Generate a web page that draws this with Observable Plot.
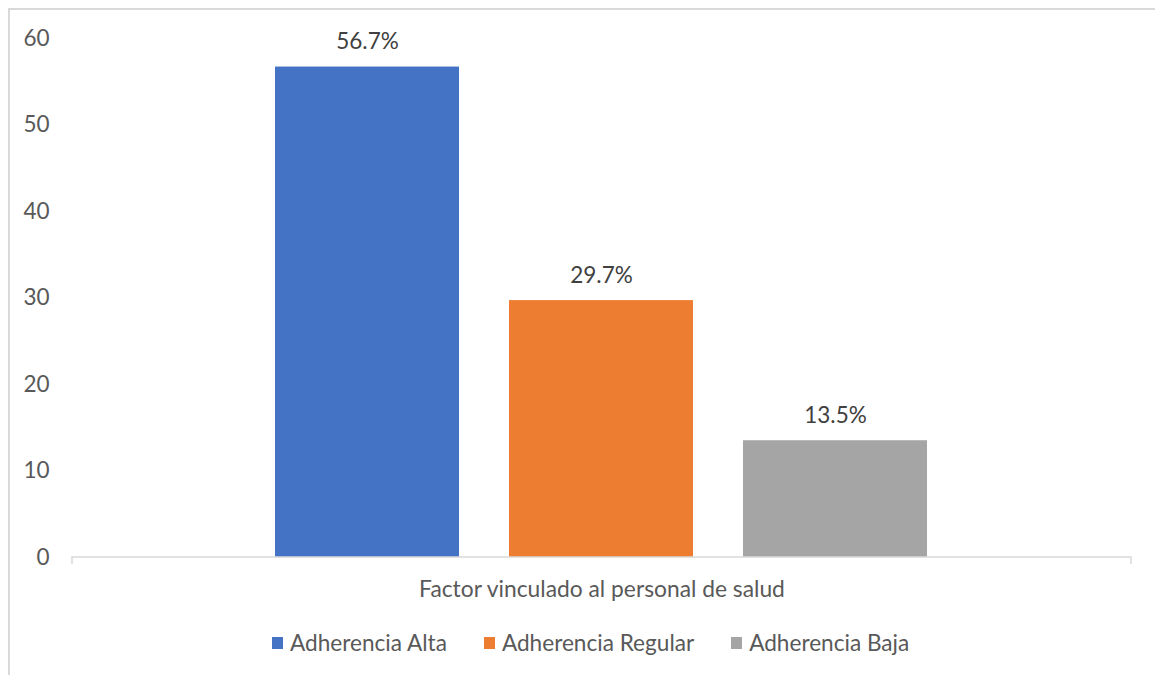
<!DOCTYPE html>
<html>
<head>
<meta charset="utf-8">
<script src="https://cdn.jsdelivr.net/npm/d3@7"></script>
<script src="https://cdn.jsdelivr.net/npm/@observablehq/plot@0.6"></script>
<style>
  html, body { margin: 0; padding: 0; background: #fff; overflow: hidden; }
  body { width: 1155px; height: 675px; position: relative; font-family: Lato, "Open Sans", sans-serif; color: #595959; }
  #frame { position: absolute; left: 8px; top: 8px; width: 1300px; height: 800px; border-left: 2px solid #d9d9d9; border-top: 2px solid #d9d9d9; box-sizing: border-box; }
  #chart { position: absolute; left: 0; top: 0; }
  #legend { position: absolute; left: 272px; top: 629px; display: flex; align-items: center; font-size: 22.6px; color: #595959; white-space: nowrap; }
  .item { display: flex; align-items: center; margin-right: 37px; }
  .sw { width: 11px; height: 12px; margin-right: 7px; }
</style>
</head>
<body>
<div id="frame"></div>
<div id="chart"></div>
<div id="legend"></div>
<script>
const series = ["Adherencia Alta", "Adherencia Regular", "Adherencia Baja"];
const values = [56.7, 29.7, 13.5];
const colors = ["#4472C4", "#ED7D31", "#A5A5A5"];
const yTicks = [0, 10, 20, 30, 40, 50, 60];
const categoryLabel = "Factor vinculado al personal de salud";

const data = series.map((s, i) => ({series: s, value: values[i]}));

const baselineTicks = (index, scales, values, dims) => {
  const g = d3.create("svg:g").attr("stroke", "#d9d9d9").attr("stroke-width", 1.5).attr("fill", "none");
  const y0 = scales.y(0);
  const x0 = dims.marginLeft, x1 = dims.width - dims.marginRight;
  g.append("path").attr("d", `M${x0},${y0 + 7}V${y0}H${x1}V${y0 + 7}`);
  return g.node();
};

const chart = Plot.plot({
  width: 1155,
  height: 610,
  marginLeft: 72,
  marginRight: 24,
  marginTop: 38,
  marginBottom: 53,
  style: {fontFamily: "Lato, 'Open Sans', sans-serif", color: "#595959", background: "transparent", overflow: "visible"},
  x: {domain: series, paddingInner: 0.213, paddingOuter: 0.86, axis: null},
  y: {domain: [0, 60], ticks: yTicks, axis: null},
  color: {domain: series, range: colors},
  marks: [
    Plot.axisY({ticks: yTicks, tickSize: 0, tickPadding: 23, fontSize: 22.5, label: null, fill: "#595959"}),
    Plot.barY(data, {x: "series", y: "value", fill: "series"}),
    baselineTicks,
    Plot.text(data, {x: "series", y: "value", text: d => d.value.toFixed(1) + "%", dy: -25, fontSize: 22.5, fill: "#404040", lineAnchor: "middle"}),
    Plot.text([categoryLabel], {frameAnchor: "bottom", dy: 32, fontSize: 22.8, fill: "#595959", lineAnchor: "middle"})
  ]
});
document.getElementById("chart").appendChild(chart);

const legend = d3.select("#legend");
series.forEach((s, i) => {
  const it = legend.append("div").attr("class", "item");
  it.append("div").attr("class", "sw").style("background", colors[i]);
  it.append("span").text(s);
});
</script>
</body>
</html>
